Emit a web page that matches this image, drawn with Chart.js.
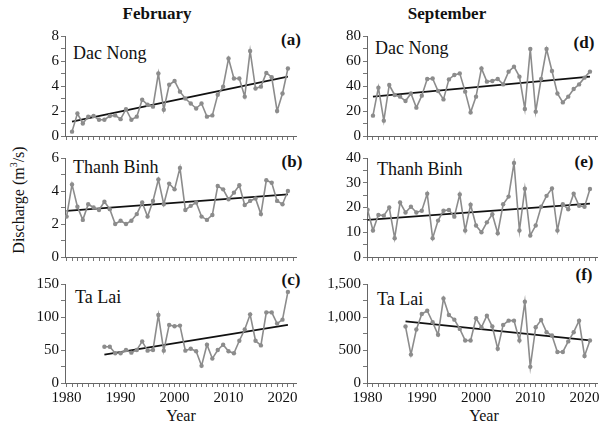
<!DOCTYPE html>
<html>
<head>
<meta charset="utf-8">
<script src="https://cdn.jsdelivr.net/npm/chart.js@4.4.1/dist/chart.umd.min.js"></script>
<style>
  body { margin: 0; background: #fff; }
  #page { position: relative; width: 603px; height: 428px; overflow: hidden; font-family: 'Liberation Serif', 'Times New Roman', serif; color: #111; }
  canvas { position: absolute; }
  .txt { position: absolute; white-space: nowrap; transform: translate(-50%, -50%); }
  .left { transform: translate(0, -50%); }
  .bold { font-weight: bold; }
</style>
</head>
<body>
<div id="page">
  <div class="txt bold" style="left:157px; top:14px; font-size:17px;">February</div>
  <div class="txt bold" style="left:447px; top:14px; font-size:17px;">September</div>

  <div class="txt left" style="left:73px; top:53px; font-size:18px;">Dac Nong</div>
  <div class="txt left" style="left:73px; top:167px; font-size:18px;">Thanh Binh</div>
  <div class="txt left" style="left:75px; top:297px; font-size:18px;">Ta Lai</div>
  <div class="txt left" style="left:375px; top:48px; font-size:18px;">Dac Nong</div>
  <div class="txt left" style="left:377px; top:169px; font-size:18px;">Thanh Binh</div>
  <div class="txt left" style="left:377px; top:299px; font-size:18px;">Ta Lai</div>

  <div class="txt bold" style="left:291px; top:40px; font-size:17px;">(a)</div>
  <div class="txt bold" style="left:292px; top:162px; font-size:17px;">(b)</div>
  <div class="txt bold" style="left:291px; top:280px; font-size:17px;">(c)</div>
  <div class="txt bold" style="left:584px; top:43px; font-size:17px;">(d)</div>
  <div class="txt bold" style="left:584px; top:162px; font-size:17px;">(e)</div>
  <div class="txt bold" style="left:584px; top:275px; font-size:17px;">(f)</div>

  <div class="txt" style="left:181px; top:416px; font-size:16px;">Year</div>
  <div class="txt" style="left:484px; top:416px; font-size:16px;">Year</div>
  <div class="txt" style="left:18px; top:200px; font-size:16px; transform: translate(-50%, -50%) rotate(-90deg);">Discharge (m<sup style="font-size:10px;">3</sup>/s)</div>
</div>

<script>
// Lưu lượng tháng 2 (February)
const febDacNong = [0.35, 1.8, 1.0, 1.55, 1.6, 1.3, 1.3, 1.6, 1.65, 1.35,
    2.15, 1.3, 1.55, 2.9, 2.5, 2.35, 5.0, 2.1, 4.1, 4.4,
    3.55, 3.0, 2.6, 2.2, 2.6, 1.55, 1.65, 3.3, 3.95, 6.2,
    4.6, 4.6, 3.15, 6.8, 3.8, 3.95, 5.05, 4.7, 2.0, 3.4, 5.4];          // 1981-2021
const febThanhBinh = [2.45, 4.4, 3.05, 2.25, 3.2, 3.0, 2.85, 3.35, 2.9, 2.0,
    2.2, 2.0, 2.2, 2.6, 3.3, 2.45, 3.4, 4.7, 3.2, 4.45,
    4.1, 5.4, 2.85, 3.1, 3.3, 2.45, 2.25, 2.55, 4.3, 4.1,
    3.5, 3.9, 4.35, 3.15, 3.4, 3.55, 2.6, 4.65, 4.5, 3.4, 3.2, 4.0];    // 1980-2021
const febTaLai = [55, 55, 45, 45, 50, 46, 50, 63, 49, 50,
    103, 49, 88, 86, 87, 49, 52, 48, 26, 58,
    37, 50, 58, 48, 45, 64, 81, 104, 64, 57,
    107, 107, 90, 96, 138];                                              // 1987-2021

// Lưu lượng tháng 9 (September)
const sepDacNong = [16.3, 38.7, 12.3, 40.8, 32.8, 31.5, 28, 34, 22.7, 32.3,
    45.6, 46, 36, 29.3, 45.3, 48.8, 50.1, 35.5, 18.9, 31.5,
    54.1, 43.5, 44, 45.6, 41.3, 51.5, 55.5, 47.5, 21.6, 69.6,
    19.5, 45.6, 69.6, 52, 34, 26.9, 31.5, 37.6, 41.3, 46.7, 51.5];       // 1981-2021
const sepThanhBinh = [19.1, 10.7, 17, 16.7, 20, 7.6, 22, 18, 20.3, 18,
    18.7, 25.6, 7.6, 14.7, 18.7, 19, 16.3, 25.3, 10.7, 21.1,
    12.7, 10, 14, 17.3, 9.6, 21.3, 24.4, 38, 10.7, 27.6,
    8.7, 12.7, 20.3, 24.7, 27.7, 10.7, 21.3, 19.3, 25.6, 20.7, 20.3, 27.5]; // 1980-2021
const sepTaLai = [855, 430, 810, 1045, 1095, 920, 730, 1280, 1030, 960,
    820, 645, 645, 980, 845, 1020, 855, 520, 880, 945,
    945, 645, 1230, 245, 845, 955, 770, 720, 470, 470,
    630, 770, 945, 410, 645];                                            // 1987-2021

// Đường xu thế: giá trị đầu và cuối
const febDacNongTrend = [1.15, 4.75];
const febThanhBinhTrend = [2.8, 3.8];
const febTaLaiTrend = [43, 88];
const sepDacNongTrend = [31.5, 47.5];
const sepThanhBinhTrend = [15, 21.6];
const sepTaLaiTrend = [935, 645];

const xTickLabels = [1980, 1990, 2000, 2010, 2020];

const FONT = "'Liberation Serif', 'Times New Roman', serif";
const GRAY = '#8c8c8c';

function toPoints(values, startYear) {
    return values.map((v, i) => ({ x: startYear + i, y: v }));
}

// Vẽ một ô biểu đồ
function makePanel(opt) {
    const padTop = 10, padRight = 10, yW = 48;
    const xH = opt.showX ? 36 : 6;
    const canvas = document.createElement('canvas');
    canvas.width = opt.w + yW + padRight;
    canvas.height = opt.h + padTop + xH;
    canvas.style.left = (opt.x - yW) + 'px';
    canvas.style.top = (opt.y - padTop) + 'px';
    document.getElementById('page').appendChild(canvas);

    const endYear = opt.start + opt.values.length - 1;

    new Chart(canvas, {
        type: 'line',
        data: {
            datasets: [{
                data: toPoints(opt.values, opt.start),
                borderColor: GRAY,
                backgroundColor: GRAY,
                borderWidth: 1.6,
                pointRadius: 2.2,
                pointBorderWidth: 0,
                pointBackgroundColor: GRAY,
                tension: 0
            }, {
                data: [{ x: opt.start, y: opt.trend[0] }, { x: endYear, y: opt.trend[1] }],
                borderColor: '#111',
                borderWidth: 1.8,
                pointRadius: 0
            }]
        },
        options: {
            responsive: false,
            animation: false,
            devicePixelRatio: 1,
            layout: { padding: { top: padTop, right: padRight, left: 0, bottom: 0 } },
            plugins: { legend: { display: false }, tooltip: { enabled: false } },
            scales: {
                x: {
                    type: 'linear',
                    min: opt.xmin,
                    max: opt.xmax,
                    afterBuildTicks: (axis) => {
                        const t = [];
                        for (let yr = 1980; yr <= 2022; yr++) t.push({ value: yr });
                        axis.ticks = t;
                    },
                    afterFit: (axis) => {
                        axis.height = xH;
                        axis.paddingLeft = 0; axis.paddingRight = 0;
                    },
                    grid: { drawOnChartArea: false, drawTicks: true, tickLength: 4, color: '#777' },
                    border: { display: true, color: '#666', width: 1 },
                    ticks: {
                        display: opt.showX,
                        autoSkip: false,
                        maxRotation: 0,
                        padding: 2,
                        color: '#111',
                        font: { family: FONT, size: 15 },
                        callback: (v) => xTickLabels.includes(v) ? String(v) : ''
                    }
                },
                y: {
                    min: 0,
                    max: opt.ymax,
                    afterBuildTicks: (axis) => {
                        const t = [];
                        for (let v = 0; v <= opt.ymax + 1e-9; v += opt.minor) t.push({ value: v });
                        axis.ticks = t;
                    },
                    afterFit: (axis) => {
                        axis.width = yW;
                        axis.paddingTop = 0; axis.paddingBottom = 0;
                    },
                    grid: { drawOnChartArea: false, drawTicks: true, tickLength: 4, color: '#777' },
                    border: { display: true, color: '#666', width: 1 },
                    ticks: {
                        autoSkip: false,
                        padding: 2,
                        color: '#111',
                        font: { family: FONT, size: 15 },
                        callback: (v) => (Math.abs(v % opt.major) < 1e-9) ? v.toLocaleString('en-US') : ''
                    }
                }
            }
        }
    });
}

const leftX = 65, rightX = 367, panelW = 231, rightW = 230;

makePanel({ x: leftX, y: 36, w: panelW, h: 100, values: febDacNong, start: 1981, trend: febDacNongTrend,
    ymax: 8, minor: 1, major: 2, xmin: 1979.7, xmax: 2022.5, showX: false });
makePanel({ x: leftX, y: 158, w: panelW, h: 99, values: febThanhBinh, start: 1980, trend: febThanhBinhTrend,
    ymax: 6, minor: 1, major: 2, xmin: 1979.7, xmax: 2022.5, showX: false });
makePanel({ x: leftX, y: 284, w: panelW, h: 99, values: febTaLai, start: 1987, trend: febTaLaiTrend,
    ymax: 150, minor: 25, major: 50, xmin: 1979.7, xmax: 2022.5, showX: true });

makePanel({ x: rightX, y: 36, w: rightW, h: 100, values: sepDacNong, start: 1981, trend: sepDacNongTrend,
    ymax: 80, minor: 10, major: 20, xmin: 1979.9, xmax: 2022.3, showX: false });
makePanel({ x: rightX, y: 158, w: rightW, h: 99, values: sepThanhBinh, start: 1980, trend: sepThanhBinhTrend,
    ymax: 40, minor: 5, major: 10, xmin: 1979.9, xmax: 2022.3, showX: false });
makePanel({ x: rightX, y: 284, w: rightW, h: 99, values: sepTaLai, start: 1987, trend: sepTaLaiTrend,
    ymax: 1500, minor: 250, major: 500, xmin: 1979.9, xmax: 2022.3, showX: true });
</script>
</body>
</html>
